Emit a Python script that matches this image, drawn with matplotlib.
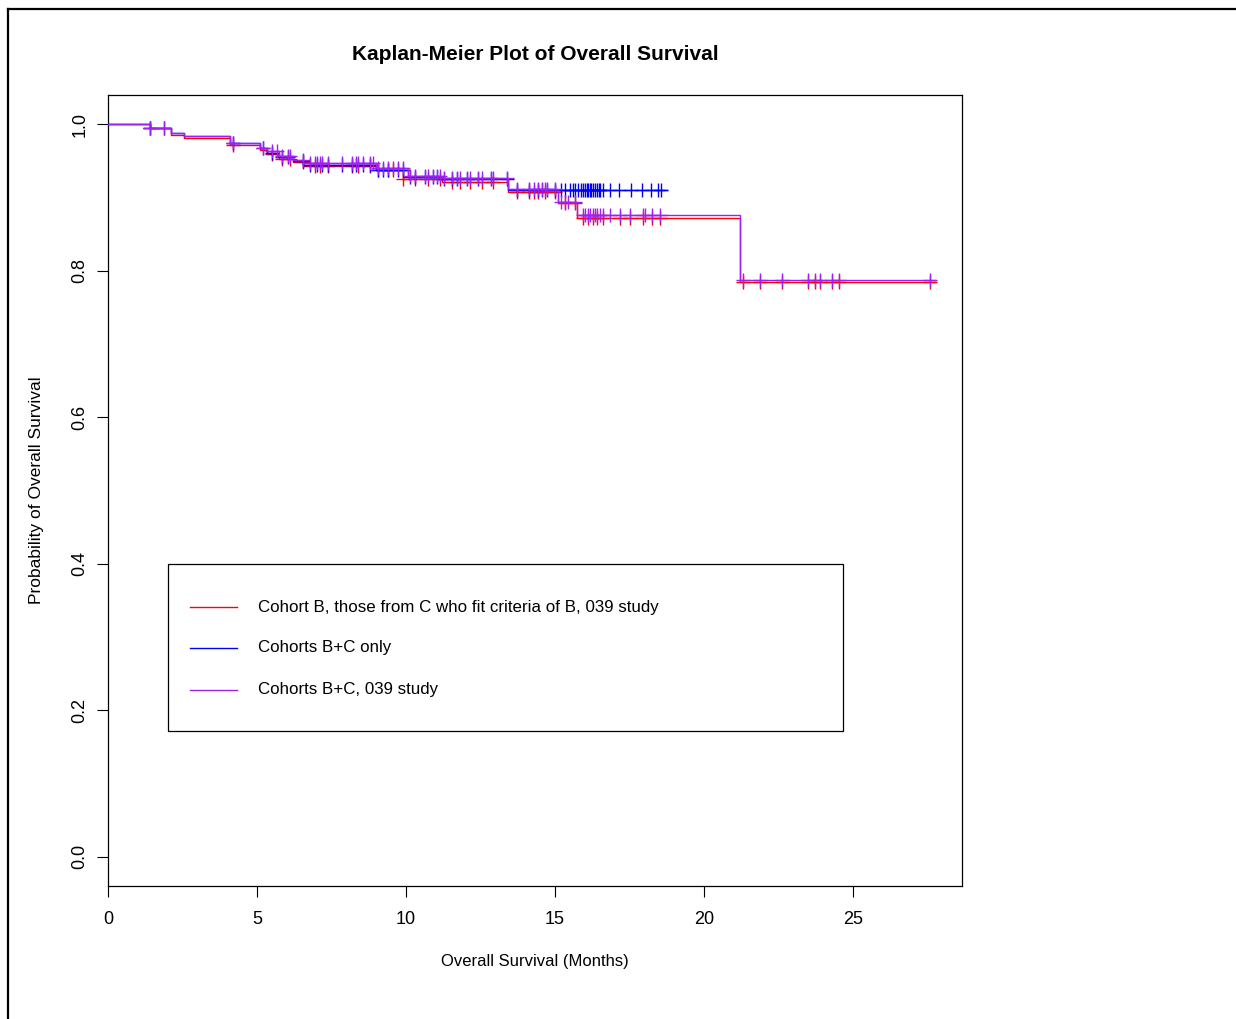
import numpy as np
import matplotlib
matplotlib.use("Agg")
import matplotlib.pyplot as plt
from matplotlib.lines import Line2D
from matplotlib.patches import Rectangle

plt.rcParams['font.family'] = ['Liberation Sans', 'DejaVu Sans']

# Kaplan-Meier curves (months, survival after the drop)
purple_event_t = [1.41, 2.11, 2.55, 4.09, 5.10, 5.34, 5.75, 6.20, 6.55, 9.00, 10.07, 11.20, 13.42, 15.10, 15.74, 21.20]
purple_surv = [0.9945, 0.9884, 0.9836, 0.974, 0.968, 0.963, 0.957, 0.951, 0.947, 0.941, 0.930, 0.926, 0.912, 0.894, 0.876, 0.787]
purple_end = 27.75
purple_cens = [1.41, 1.88, 4.19, 5.20, 5.50, 5.67, 5.84, 6.04, 6.11, 6.54, 6.78, 6.95, 7.01, 7.11,
               7.18, 7.38, 7.85, 8.19, 8.32, 8.39, 8.56, 8.79, 8.89, 9.06, 9.23, 9.40, 9.56, 9.73,
               9.90, 10.13, 10.30, 10.64, 10.74, 10.91, 11.04, 11.14, 11.28, 11.54, 11.71, 11.81,
               12.05, 12.15, 12.42, 12.55, 12.85, 12.92, 13.39, 13.72, 14.13, 14.30, 14.43, 14.56,
               14.66, 14.73, 15.00, 15.20, 15.34, 15.44, 15.67, 15.94, 16.01, 16.11, 16.17, 16.28,
               16.34, 16.41, 16.51, 16.61, 16.85, 17.18, 17.52, 17.95, 18.02, 18.26, 18.52,
               21.30, 21.89, 22.62, 23.50, 23.72, 23.90, 24.30, 24.53, 27.58]

blue_event_t = [1.41, 2.11, 2.55, 4.09, 5.10, 5.34, 5.75, 6.20, 6.55, 9.00, 10.07, 11.20, 13.42]
blue_surv = [0.9945, 0.9884, 0.9836, 0.974, 0.967, 0.961, 0.955, 0.950, 0.945, 0.937, 0.928, 0.925, 0.910]
blue_end = 18.75
blue_cens = [1.41, 1.88, 4.19, 5.20, 5.50, 5.84, 6.04, 6.54, 6.78, 7.01, 7.18, 7.38, 7.85, 8.19,
             8.32, 8.56, 8.79, 9.06, 9.23, 9.40, 9.73, 9.90, 10.13, 10.30, 10.64, 10.91, 11.04,
             11.28, 11.54, 11.71, 12.05, 12.42, 12.85, 13.39, 13.72, 14.13, 14.43, 14.56, 14.73,
             15.00, 15.20, 15.34, 15.50, 15.60, 15.67, 15.78, 15.88, 15.94, 16.01, 16.06, 16.11,
             16.17, 16.22, 16.28, 16.34, 16.41, 16.47, 16.51, 16.61, 16.85, 17.16, 17.54, 17.91,
             18.22, 18.45, 18.55]

red_event_t = [1.41, 2.11, 2.55, 4.09, 5.10, 5.34, 5.75, 6.20, 6.55, 9.00, 9.90, 11.20, 13.42, 15.10, 15.74, 21.20]
red_surv = [0.9945, 0.986, 0.981, 0.972, 0.965, 0.960, 0.953, 0.948, 0.943, 0.937, 0.925, 0.921, 0.907, 0.892, 0.872, 0.785]
red_end = 27.75
red_cens = [1.41, 4.19, 5.50, 5.84, 6.11, 6.54, 6.95, 7.11, 7.38, 8.19, 8.39, 8.79, 9.06, 9.40,
            9.56, 9.90, 10.30, 10.74, 11.14, 11.54, 11.81, 12.15, 12.55, 12.92, 13.72, 14.13,
            14.30, 14.43, 14.66, 15.00, 15.34, 15.67, 15.94, 16.11, 16.28, 16.41, 16.61, 17.18,
            17.52, 17.95, 18.26, 18.52, 21.30, 21.89, 22.62, 23.50, 23.72, 23.90, 24.30, 24.53, 27.58]

labels = ["Cohort B, those from C who fit criteria of B, 039 study",
          "Cohorts B+C only",
          "Cohorts B+C, 039 study"]
colors = ["#ff0000", "#0000ff", "#a020f0"]


def km_curve(ax, ev_t, surv, end, cens, color):
    t = np.r_[0.0, ev_t, end]
    s = np.r_[1.0, surv, surv[-1]]
    ax.step(t, s, where="post", color=color, lw=1.0, zorder=3)
    idx = np.searchsorted(t, cens, side="right") - 1
    ax.plot(cens, s[idx], ls="none", marker="+", ms=10, mew=1.0, color=color, zorder=3)


fig = plt.figure(figsize=(12.36, 10.19), dpi=100)
ax = fig.add_axes([108 / 1236, 1 - 886 / 1019, 854 / 1236, 791 / 1019])

km_curve(ax, red_event_t, red_surv, red_end, red_cens, colors[0])
km_curve(ax, blue_event_t, blue_surv, blue_end, blue_cens, colors[1])
km_curve(ax, purple_event_t, purple_surv, purple_end, purple_cens, colors[2])

ax.set_xlim(0, 28.66)
ax.set_ylim(-0.04, 1.04)
ax.set_xticks([0, 5, 10, 15, 20, 25])
ax.set_yticks([0.0, 0.2, 0.4, 0.6, 0.8, 1.0])
ax.set_yticklabels(["0.0", "0.2", "0.4", "0.6", "0.8", "1.0"], rotation=90, va="center")
ax.tick_params(length=8, width=0.8, labelsize=13)
ax.tick_params(axis="x", pad=10)
ax.tick_params(axis="y", pad=6)
for sp in ax.spines.values():
    sp.set_linewidth(0.9)

ax.set_title("Kaplan-Meier Plot of Overall Survival", fontsize=15, fontweight="bold", pad=25)
ax.set_xlabel("Overall Survival (Months)", fontsize=12, labelpad=19)
ax.set_ylabel("Probability of Overall Survival", fontsize=12.5, labelpad=20)

# legend box, drawn by hand like R's legend()
ax.add_patch(Rectangle((0.0703, 0.196), 0.7904, 0.2111, transform=ax.transAxes,
                       fill=False, ec="black", lw=0.9, zorder=4))
rows = [0.3527, 0.3009, 0.2478]
for lab, col, yy in zip(labels, colors, rows):
    ax.plot([0.096, 0.151], [yy, yy], color=col, lw=1.0, transform=ax.transAxes)
    ax.text(0.1756, yy, lab, transform=ax.transAxes, va="center", ha="left", fontsize=12.2)

# outer frame of the screenshot
fig.add_artist(Line2D([8 / 1236, 1], [1 - 9 / 1019, 1 - 9 / 1019], color="black", lw=1.6))
fig.add_artist(Line2D([8 / 1236, 8 / 1236], [0, 1 - 9 / 1019], color="black", lw=1.6))

fig.savefig("out.png", dpi=100)
